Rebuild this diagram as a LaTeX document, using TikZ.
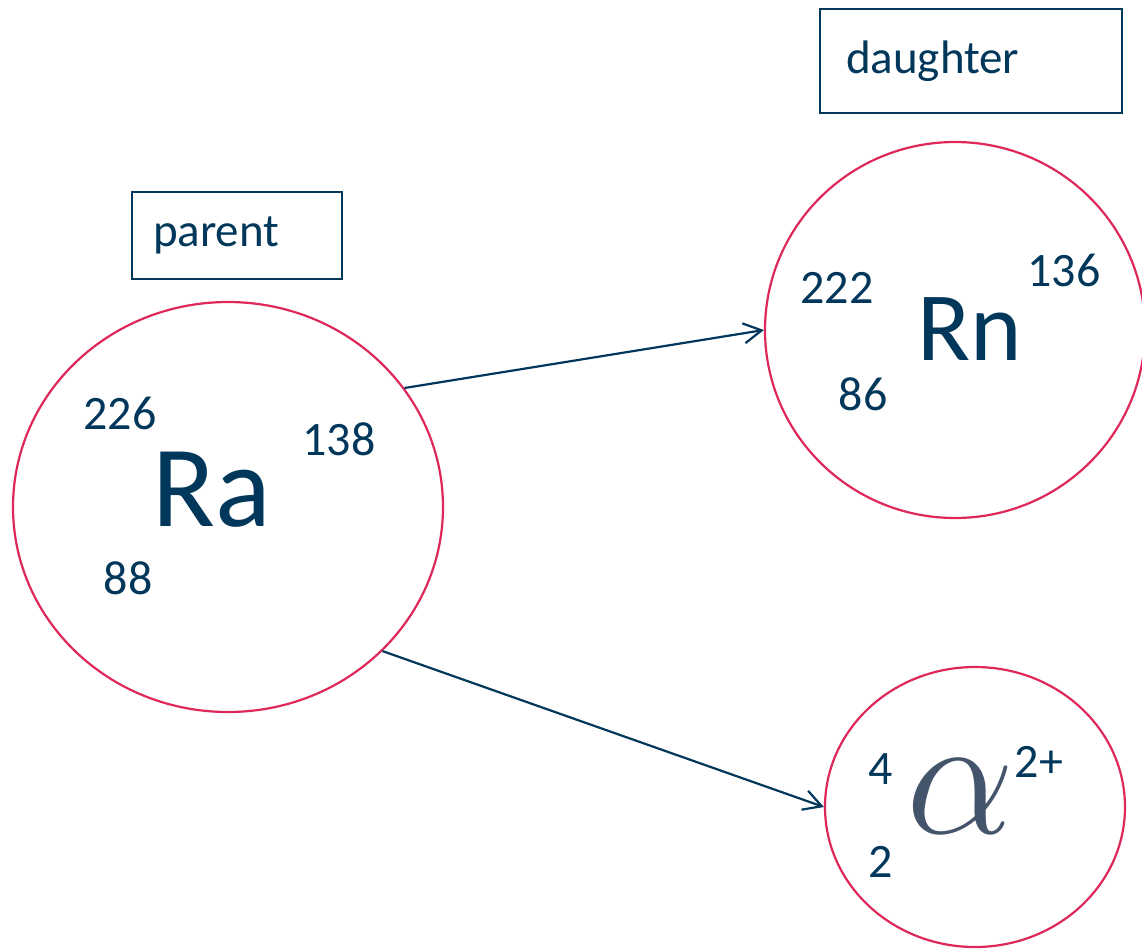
\documentclass[tikz,border=0pt]{standalone}
\usepackage{fix-cm}
\usepackage{fontspec}
\setmainfont{Carlito}
\usetikzlibrary{arrows.meta, shapes.geometric}
\definecolor{inkblue}{RGB}{0, 55, 90}
\definecolor{ringred}{RGB}{222, 40, 90}
\definecolor{alphagrey}{RGB}{68, 84, 106}

\begin{document}
\begin{tikzpicture}[x=0.5pt, y=-0.5pt,
    nucleus/.style={
        ellipse, draw=ringred, line width=1.1pt, fill=white,
        inner sep=0pt
    },
    tagbox/.style={
        draw=inkblue, line width=0.7pt, align=left,
        text=inkblue, font=\fontsize{23.5}{26}\selectfont
    },
    symbol/.style={text=inkblue, inner sep=0pt},
    num/.style={text=inkblue, inner sep=0pt, font=\fontsize{24}{26}\selectfont},
    decay/.style={-{Straight Barb[length=9pt, width=10pt]}, line width=1.1pt, inkblue},
]
\useasboundingbox (0,0) rectangle (1142,950);

% --- Kerne ---
\node[nucleus, minimum width=215pt, minimum height=205pt] (Ra) at (228, 507) {};
\node[nucleus, minimum width=190pt, minimum height=188pt] (Rn) at (955, 330) {};
\node[nucleus, minimum width=150pt, minimum height=140pt] (He) at (975, 807) {};

% --- Ra ---
\node[symbol, font=\fontsize{58}{60}\selectfont] (RaSym) at (212, 490) {Ra};
\node[num] (RaA) at (120, 413) {226};
\node[num] (RaN) at (339, 439) {138};
\node[num] (RaZ) at (128, 578) {88};

% --- Rn ---
\node[symbol, font=\fontsize{49}{52}\selectfont] (RnSym) at (970, 329) {Rn};
\node[num] (RnA) at (837, 288) {222};
\node[num] (RnN) at (1064, 270) {136};
\node[num] (RnZ) at (863, 394) {86};

% --- alpha ---
\node[inner sep=0pt, text=alphagrey, font=\fontsize{86}{90}\selectfont] (HeSym) at (961, 796) {$\alpha$};
\node[num] (HeA) at (881, 769) {4};
\node[num] (HeZ) at (881, 862) {2};
\node[num] (HeQ) at (1039, 762) {2+};

% --- Beschriftungen ---
\node[tagbox, minimum width=105pt, minimum height=43.5pt,
      inner xsep=10.5pt, text width=84pt] (parent) at (237, 235.5) {parent};
\node[tagbox, minimum width=151pt, minimum height=52pt,
      inner xsep=13pt, text width=125pt] (daughter) at (971, 61) {daughter};

% --- Zerfall ---
\draw[decay] (Ra.34) -- (Rn.west);
\draw[decay] (Ra.-43) -- (He.west);

\end{tikzpicture}
\end{document}
